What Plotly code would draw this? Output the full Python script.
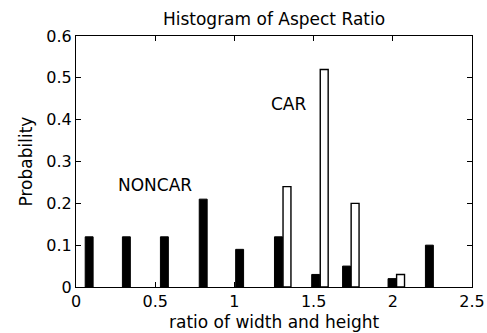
import plotly.graph_objects as go

bin_centers = [0.11, 0.345, 0.585, 0.83, 1.06, 1.305, 1.54, 1.735, 2.022, 2.258]
noncar = [0.12, 0.12, 0.12, 0.21, 0.09, 0.12, 0.03, 0.05, 0.02, 0.10]
car = [0, 0, 0, 0, 0, 0.24, 0.52, 0.20, 0.03, 0]

x_ticks = [0, 0.5, 1, 1.5, 2, 2.5]
x_tick_labels = ["0", "0.5", "1", "1.5", "2", "2.5"]
y_ticks = [0, 0.1, 0.2, 0.3, 0.4, 0.5, 0.6]
y_tick_labels = ["0", "0.1", "0.2", "0.3", "0.4", "0.5", "0.6"]

FONT = "DejaVu Sans, Liberation Sans, Arial, sans-serif"
FS = 17
TFS = 16

W, H = 487, 333
L, R, T, B = 76, 15, 36, 46
plot_h = H - T - B
plot_w = W - L - R

fig = go.Figure()
fig.add_trace(go.Bar(
    x=bin_centers, y=noncar, name="NONCAR",
    width=0.05, offset=-0.052,
    marker=dict(color="black", line=dict(color="black", width=1)),
))
fig.add_trace(go.Bar(
    x=bin_centers, y=car, name="CAR",
    width=0.05, offset=0.002,
    marker=dict(color="white",
                line=dict(color="black", width=[1.4 if v > 0 else 0 for v in car])),
))

fig.add_annotation(x=0.499, y=0.244, text="NONCAR", showarrow=False,
                   xref="x", yref="y", font=dict(family=FONT, size=FS, color="black"))
fig.add_annotation(x=1.342, y=0.437, text="CAR", showarrow=False,
                   xref="x", yref="y", font=dict(family=FONT, size=FS, color="black"))
# axis titles
fig.add_annotation(x=0.5, y=-(322 - (H - B)) / plot_h, xref="paper", yref="paper",
                   text="ratio of width and height", showarrow=False,
                   xanchor="center", yanchor="middle",
                   font=dict(family=FONT, size=FS, color="black"))
fig.add_annotation(x=(25 - L) / plot_w, y=0.5, xref="paper", yref="paper",
                   text="Probability", showarrow=False, textangle=-90,
                   xanchor="center", yanchor="middle",
                   font=dict(family=FONT, size=FS, color="black"))

fig.update_layout(
    width=W, height=H,
    margin=dict(l=L, r=R, t=T, b=B, autoexpand=False),
    paper_bgcolor="white", plot_bgcolor="white",
    showlegend=False,
    barmode="overlay",
    title=dict(text="Histogram of Aspect Ratio", x=274/487, xanchor="center",
               y=1 - 19/333, yanchor="middle",
               font=dict(family=FONT, size=FS, color="black")),
    font=dict(family=FONT, size=FS, color="black"),
)
fig.update_xaxes(
    range=[0, 2.5], tickvals=x_ticks, ticktext=x_tick_labels,
    showgrid=False, zeroline=False, automargin=False,
    showline=True, linecolor="black", linewidth=1, mirror="ticks",
    ticks="inside", ticklen=5, tickcolor="black",
    tickfont=dict(family=FONT, size=TFS),
)
fig.update_yaxes(
    range=[0, 0.6], tickvals=y_ticks, ticktext=y_tick_labels,
    showgrid=False, zeroline=False, automargin=False,
    showline=True, linecolor="black", linewidth=1, mirror="ticks",
    ticks="inside", ticklen=5, tickcolor="black",
    tickfont=dict(family=FONT, size=TFS),
)

fig.write_html(
    "out.html",
    config={"displayModeBar": False},
    post_script="document.body.style.margin='0';document.body.style.overflow='hidden';",
)
